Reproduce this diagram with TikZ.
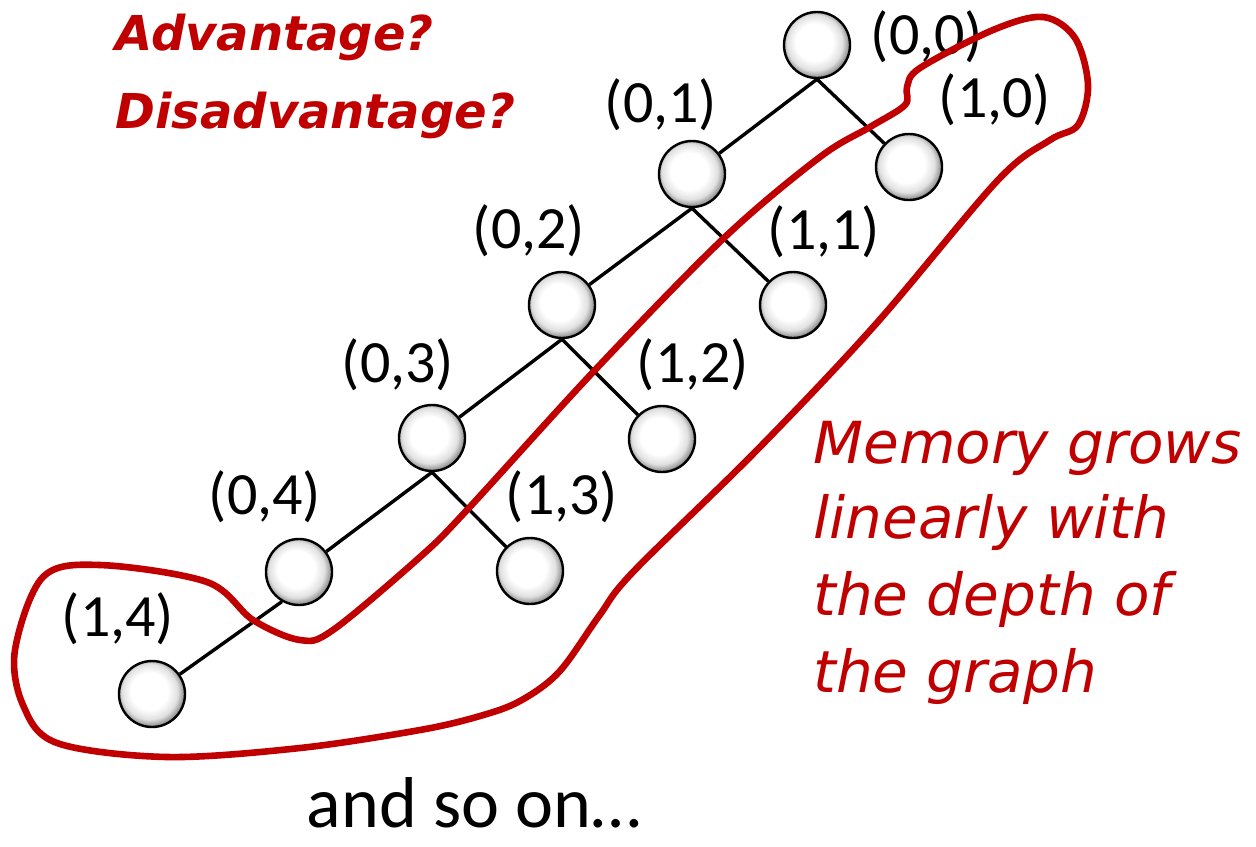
\documentclass[tikz,border=0pt]{standalone}
\usepackage{fontspec}
\setmainfont{Carlito}
\newfontfamily\handfont{DejaVu Sans}
\definecolor{memred}{HTML}{C00000}
\pgfdeclareradialshading{nodeball}{\pgfpoint{-3bp}{3bp}}{color(0bp)=(white); color(14bp)=(white); color(21bp)=(black!12); color(26bp)=(black!45); color(29bp)=(black!62); color(50bp)=(black!62)}
\begin{document}
\begin{tikzpicture}[x=0.5pt,y=-0.5pt,
  ballnode/.style={circle, draw=black, line width=1.2pt, minimum size=33pt, inner sep=0pt, shading=nodeball},
  edge/.style={draw=black, line width=1.7pt},
  lbl/.style={font=\fontsize{30}{36}\selectfont, inner sep=0pt, anchor=center},
  redhead/.style={text=memred, font=\handfont\bfseries\itshape\fontsize{24}{29}\selectfont, inner sep=0pt, anchor=base west},
  rednote/.style={text=memred, font=\handfont\itshape\fontsize{29}{35}\selectfont, inner sep=0pt, anchor=base west},
  redline/.style={draw=memred, line width=3.3pt, line join=round}]
\useasboundingbox (0,0) rectangle (1256,846);
% nodes
\node[ballnode] (n00) at (817,45) {};
\node[ballnode] (n01) at (692,174) {};
\node[ballnode] (n10) at (909,167) {};
\node[ballnode] (n02) at (562,305) {};
\node[ballnode] (n11) at (793,305) {};
\node[ballnode] (n03) at (432,438) {};
\node[ballnode] (n12) at (662,439) {};
\node[ballnode] (n04) at (299,572) {};
\node[ballnode] (n13) at (530,571) {};
\node[ballnode] (n14) at (152,694) {};
% edges
\draw[edge] (n00.south) -- (n01);
\draw[edge] (n00.south) -- (n10);
\draw[edge] (n01.south) -- (n02);
\draw[edge] (n01.south) -- (n11);
\draw[edge] (n02.south) -- (n03);
\draw[edge] (n02.south) -- (n12);
\draw[edge] (n03.south) -- (n04);
\draw[edge] (n03.south) -- (n13);
\draw[edge] (n04.240) -- (n14);
% labels
\node[lbl] (l00) at (927,37) {(0,0)};
\node[lbl] (l10) at (995,100) {(1,0)};
\node[lbl] (l01) at (661,105) {(0,1)};
\node[lbl] (l11) at (824,232) {(1,1)};
\node[lbl] (l02) at (529,231) {(0,2)};
\node[lbl] (l12) at (693,365) {(1,2)};
\node[lbl] (l03) at (398,365) {(0,3)};
\node[lbl] (l13) at (562,497) {(1,3)};
\node[lbl] (l04) at (265,497) {(0,4)};
\node[lbl] (l14) at (118,619) {(1,4)};
% red texts
\node[redhead] (adv) at (115,50) {Advantage?};
\node[redhead] (dis) at (115,128) {Disadvantage?};
\node[rednote] (m1) at (813,463) {Memory grows};
\node[rednote] (m2) at (813,538) {linearly with};
\node[rednote] (m3) at (813,615) {the depth of};
\node[rednote] (m4) at (813,692) {the graph};
\node[font=\fontsize{36}{43}\selectfont, inner sep=0pt, anchor=base] (andso) at (474,827) {and so on…};
% red loop
\draw[redline] plot[smooth cycle, tension=0.55] coordinates {
(1043,17) (1075,38) (1088,85) (1078,125) (1050,140) (998,180) (875,325)
(757,450) (633,572) (599,616) (559,672) (520,701) (480,716) (420,730)
(300,748) (167,757) (57,743) (23,705) (15,650) (43,577) (100,565)
(207,582) (253,620) (300,640) (333,630) (420,557) (467,510) (595,370)
(725,237) (820,157) (870,127) (905,105) (907,87) (920,68) (993,30)};
\end{tikzpicture}
\end{document}
